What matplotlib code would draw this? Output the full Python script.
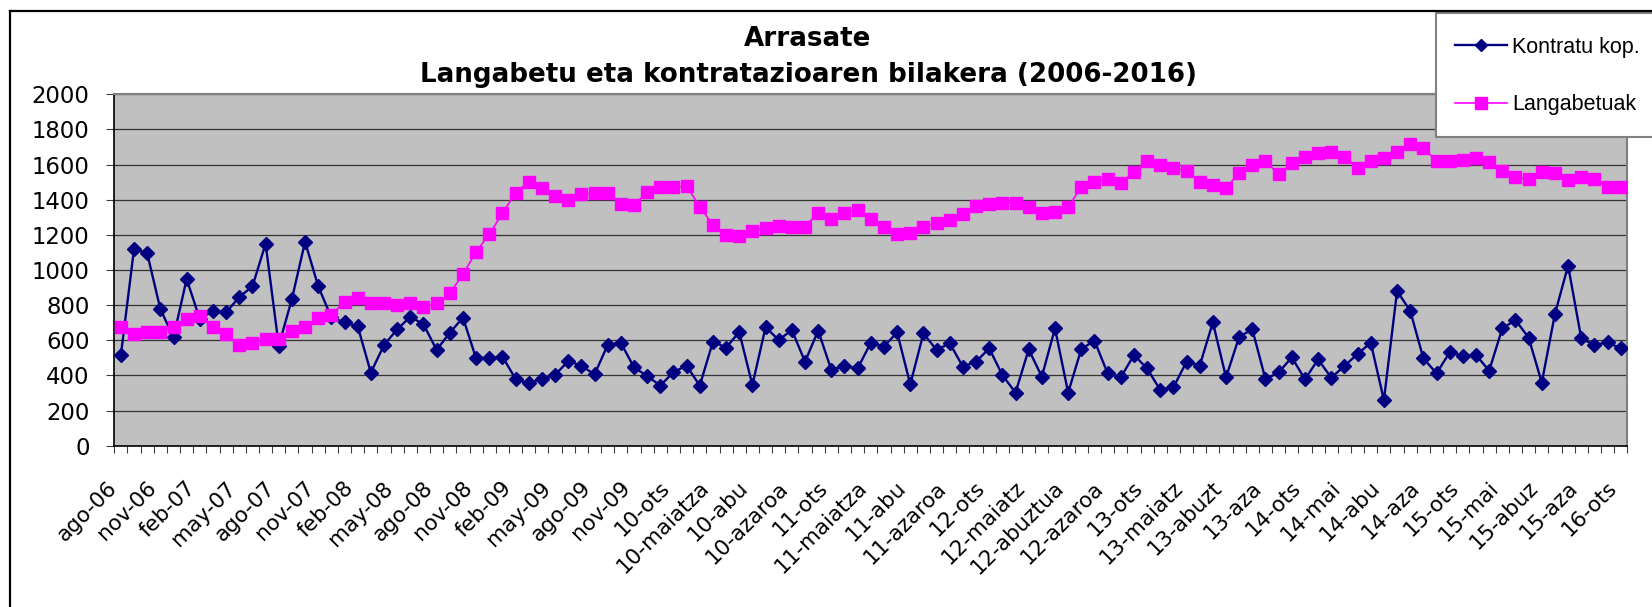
import numpy as np
import matplotlib
matplotlib.use('Agg')
import matplotlib.pyplot as plt
from matplotlib.patches import Rectangle
from matplotlib.lines import Line2D

# ---------------- data ----------------
tick_labels = ['ago-06', 'nov-06', 'feb-07', 'may-07', 'ago-07', 'nov-07', 'feb-08', 'may-08',
               'ago-08', 'nov-08', 'feb-09', 'may-09', 'ago-09', 'nov-09', '10-ots', '10-maiatza',
               '10-abu', '10-azaroa', '11-ots', '11-maiatza', '11-abu', '11-azaroa', '12-ots',
               '12-maiatz', '12-abuztua', '12-azaroa', '13-ots', '13-maiatz', '13-abuzt', '13-aza',
               '14-ots', '14-mai', '14-abu', '14-aza', '15-ots', '15-mai', '15-abuz', '15-aza', '16-ots']

kontratu = [516, 1120, 1095, 778, 617, 949, 720, 767, 759, 846, 907, 1150, 569, 835, 1161, 907, 730, 702, 680,
            416, 573, 662, 734, 691, 545, 643, 729, 497, 497, 507, 380, 355, 380, 402, 482, 455, 406, 573,
            586, 446, 397, 342, 419, 455, 342, 592, 558, 647, 345, 674, 602, 658, 478, 655, 431, 454, 440,
            586, 564, 645, 349, 639, 545, 583, 450, 478, 554, 402, 302, 548, 393, 668, 302, 550, 598, 412,
            389, 516, 440, 317, 332, 478, 455, 702, 389, 620, 662, 378, 417, 503, 378, 491, 387, 454, 522,
            586, 260, 880, 768, 497, 412, 531, 512, 516, 427, 668, 715, 615, 359, 750, 1025, 611, 573, 588, 554]

langabetuak = [677, 636, 649, 649, 677, 719, 738, 676, 638, 573, 583, 607, 607, 655, 677, 727, 744, 820, 839,
               810, 814, 801, 810, 787, 810, 867, 975, 1104, 1203, 1323, 1440, 1503, 1465, 1423, 1398, 1433, 1436, 1436,
               1374, 1370, 1442, 1474, 1471, 1478, 1361, 1256, 1199, 1193, 1224, 1241, 1252, 1243, 1247, 1327, 1288, 1327, 1340,
               1288, 1247, 1205, 1212, 1247, 1266, 1285, 1319, 1366, 1374, 1383, 1383, 1357, 1323, 1332, 1357, 1474, 1503, 1518,
               1493, 1560, 1620, 1598, 1579, 1565, 1503, 1484, 1469, 1550, 1598, 1620, 1545, 1607, 1645, 1668, 1670, 1641, 1582,
               1622, 1636, 1673, 1717, 1693, 1620, 1620, 1626, 1636, 1613, 1564, 1531, 1516, 1560, 1554, 1512, 1531, 1516, 1474, 1471]

title1 = 'Arrasate'
title2 = 'Langabetu eta kontratazioaren bilakera (2006-2016)'
series_names = ['Kontratu kop.', 'Langabetuak']

# ---------------- figure ----------------
W, H = 1652, 607
fig = plt.figure(figsize=(W / 100, H / 100), dpi=100)
fig.patch.set_facecolor('white')


def fx(px):
    return px / W


def fy(py):
    return 1 - py / H


ax = fig.add_axes([fx(114.3), fy(445.7), fx(1627.3) - fx(114.3), fy(94.3) - fy(445.7)])
ax.set_facecolor('#C0C0C0')

x = np.arange(len(kontratu))
ax.plot(x, kontratu, color='#000080', lw=1.7, marker='D', ms=7.0,
        mec='#000080', mfc='#000080', label=series_names[0], zorder=3)
ax.plot(x, langabetuak, color='#FF00FF', lw=1.2, marker='s', ms=9.2,
        mec='#FF00FF', mfc='#FF00FF', label=series_names[1], zorder=4)

ax.set_xlim(-0.5, len(x) - 0.5)
ax.set_ylim(0, 2000)
ax.set_yticks(np.arange(0, 2001, 200))
ax.yaxis.grid(True, color='#333333', lw=0.9)
ax.set_axisbelow(True)

major = np.arange(0, len(x), 3)
ax.set_xticks(major)
ax.set_xticklabels(tick_labels, rotation=45, ha='right', va='top',
                   fontsize=15.5, family='DejaVu Sans')
ax.set_xticks(np.arange(-0.5, len(x), 1), minor=True)
ax.tick_params(axis='x', which='major', length=0, pad=23)
ax.tick_params(axis='x', which='minor', length=5, width=0.8, color='#404040')
ax.tick_params(axis='y', length=5.8, width=0.8, color='#404040', pad=12)
for lab in ax.get_yticklabels():
    lab.set_family('DejaVu Sans')
    lab.set_fontsize(16.4)

for s in ['left', 'bottom']:
    ax.spines[s].set_color('black')
    ax.spines[s].set_linewidth(1.2)
for s in ['top', 'right']:
    ax.spines[s].set_color('#808080')
    ax.spines[s].set_linewidth(1.5)

# outer chart border
fig.add_artist(Line2D([fx(10), 1.0], [fy(11), fy(11)], color='black', lw=1.6, transform=fig.transFigure))
fig.add_artist(Line2D([fx(10), fx(10)], [fy(11), 0.0], color='black', lw=1.6, transform=fig.transFigure))

# title
fig.text(fx(808), fy(46.5), title1, ha='center', va='baseline',
         fontsize=18.8, fontweight='bold', family='DejaVu Sans')
fig.text(fx(808), fy(81.5), title2, ha='center', va='baseline',
         fontsize=18.8, fontweight='bold', family='DejaVu Sans')

# legend box
fig.patches.append(Rectangle((fx(1436), fy(137)), fx(1660) - fx(1436), fy(13) - fy(137),
                             transform=fig.transFigure, facecolor='white',
                             edgecolor='#808080', lw=1.5, zorder=1))
handles, labels = ax.get_legend_handles_labels()
fig.legend(handles, labels, loc='upper left', bbox_to_anchor=(fx(1455), fy(36.5)),
           bbox_transform=fig.transFigure, frameon=False, handlelength=2.4,
           handletextpad=0.25, labelspacing=1.7, borderpad=0, borderaxespad=0,
           prop={'family': 'Liberation Sans', 'size': 15.5}, markerscale=0.9)

fig.savefig('out.png', dpi=100, facecolor='white')
